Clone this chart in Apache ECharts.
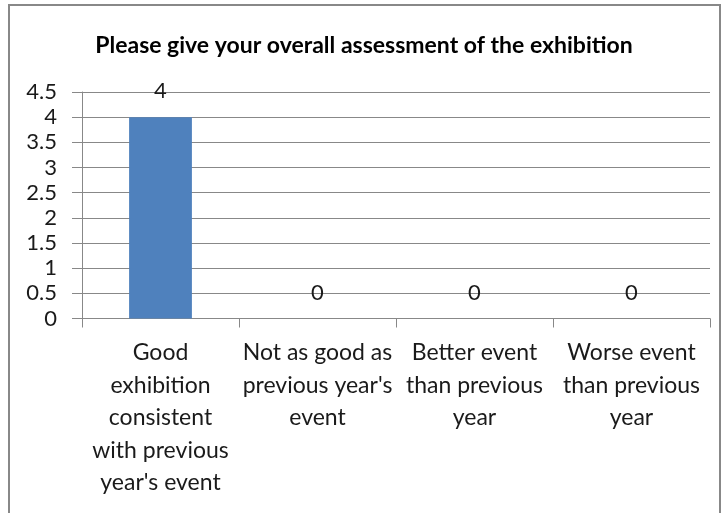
<!DOCTYPE html>
<html><head><meta charset="utf-8">
<script src="https://cdn.jsdelivr.net/npm/echarts@6/dist/echarts.min.js"></script>
<style>html,body{margin:0;padding:0;background:#fff}#c{width:728px;height:513px}</style>
</head><body><div id="c"></div>
<script>
const titleText = "Please give your overall assessment of the exhibition";
const categories = [
  "Good\nexhibition\nconsistent\nwith previous\nyear's event",
  "Not as good as\nprevious year's\nevent",
  "Better event\nthan previous\nyear",
  "Worse event\nthan previous\nyear"
];
const values = [4, 0, 0, 0];
const yTicks = [0, 0.5, 1, 1.5, 2, 2.5, 3, 3.5, 4, 4.5];

const FONT = 'Lato';
const chart = echarts.init(document.getElementById('c'), null, {renderer:'canvas'});

chart.setOption({
  animation:false,
  title:{text:titleText,left:'center',top:29,textStyle:{fontFamily:FONT,fontWeight:'bold',fontSize:23,color:'#000'}},
  grid:{left:82,right:18,top:92,bottom:194.5},
  xAxis:{type:'category',data:categories,
    axisLine:{lineStyle:{color:'#888',width:1}},
    axisTick:{show:true,length:9,lineStyle:{color:'#888'}},
    axisLabel:{fontFamily:FONT,fontSize:23,color:'#1a1a1a',lineHeight:32.5,margin:18,interval:0}},
  yAxis:{type:'value',min:yTicks[0],max:yTicks[yTicks.length-1],interval:yTicks[1]-yTicks[0],
    axisLine:{show:true,lineStyle:{color:'#888'}},
    axisTick:{show:true,length:10,lineStyle:{color:'#888'}},
    splitLine:{lineStyle:{color:'#888'}},
    axisLabel:{fontFamily:FONT,fontSize:22,color:'#1a1a1a',margin:25,
      formatter:v=>String(v)}},
  series:[{type:'bar',data:values,barWidth:'40%',itemStyle:{color:'#4F81BD'},
    label:{show:true,position:'top',distance:15,fontFamily:FONT,fontSize:22,color:'#1a1a1a'}}],
  graphic:[
    {type:'rect',shape:{x:9,y:5,width:711,height:520},style:{fill:'none',stroke:'#888',lineWidth:2},silent:true,z:-1}
  ]
});
</script></body></html>
